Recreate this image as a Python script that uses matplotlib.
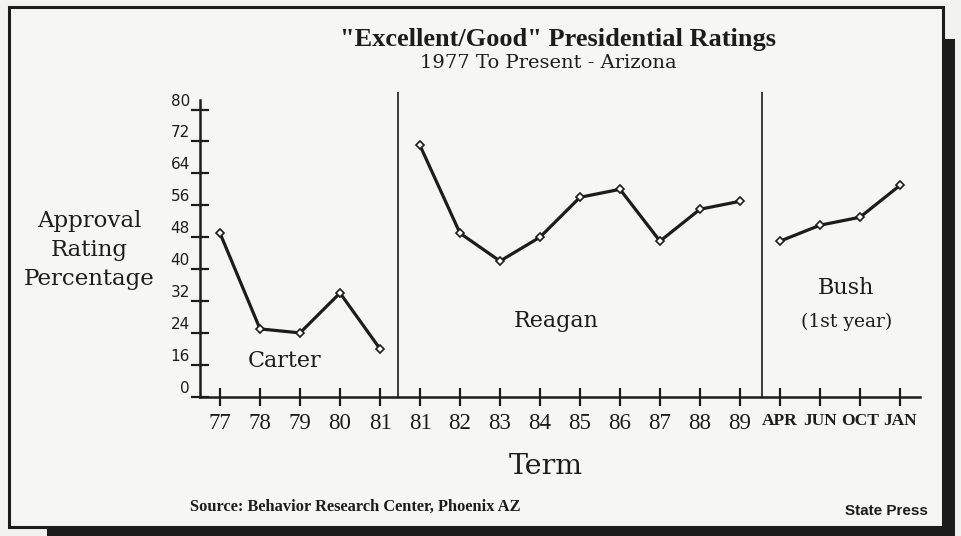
import matplotlib
matplotlib.use('Agg')
import matplotlib.pyplot as plt
from matplotlib.patches import Rectangle
import matplotlib.transforms as mtransforms

# ---------------- data ----------------
carter_terms = ['77', '78', '79', '80', '81']
carter_values = [49, 25, 24, 34, 20]
reagan_terms = ['81', '82', '83', '84', '85', '86', '87', '88', '89']
reagan_values = [71, 49, 42, 48, 58, 60, 47, 55, 57]
bush_terms = ['APR', 'JUN', 'OCT', 'JAN']
bush_values = [47, 51, 53, 61]
y_tick_values = [8, 16, 24, 32, 40, 48, 56, 64, 72, 80]
y_tick_labels = ['0', '16', '24', '32', '40', '48', '56', '64', '72', '80']
president_labels = ['Carter', 'Reagan', 'Bush']

# ---------------- figure ----------------
W, H = 961, 536
INK = '#1c1c1c'
PAPER = '#f6f6f4'
fig = plt.figure(figsize=(W / 100, H / 100), dpi=100)
fig.patch.set_facecolor('#f2f2f0')


def fx(x):
    return x / W


def fy(y):
    return 1 - y / H


# drop shadow + frame
fig.patches.append(Rectangle((fx(47), fy(540)), fx(955) - fx(47), fy(39) - fy(540),
                             transform=fig.transFigure, facecolor=INK,
                             edgecolor='none', zorder=-3))
fig.patches.append(Rectangle((fx(9), fy(527)), fx(943) - fx(9), fy(7) - fy(527),
                             transform=fig.transFigure, facecolor=PAPER,
                             edgecolor=INK, linewidth=2.2, zorder=-2))

ax = fig.add_axes([fx(200), fy(396.7), fx(920) - fx(200), fy(92) - fy(396.7)])
ax.set_zorder(2)
ax.set_facecolor('none')
ax.set_xlim(-0.5, 17.5)
ax.set_ylim(8, 84.4)

groups = [(carter_terms, carter_values), (reagan_terms, reagan_values),
          (bush_terms, bush_values)]
all_terms = []
start = 0
boundaries = []
for terms, vals in groups:
    xs = list(range(start, start + len(terms)))
    ax.plot(xs, vals, color=INK, lw=2.3, marker='D', ms=4.3,
            mfc='white', mec=INK, mew=1.2, zorder=3, clip_on=False)
    all_terms += terms
    start += len(terms)
    boundaries.append(start - 0.5)

# divider lines between terms
ax.axvline(boundaries[0] - 0.05, color=INK, lw=1.2, zorder=2)
ax.axvline(boundaries[1] + 0.05, color=INK, lw=1.2, zorder=2)

# spines
for s in ['top', 'right']:
    ax.spines[s].set_visible(False)
ax.spines['left'].set_bounds(8, 82.4)
for s in ['left', 'bottom']:
    ax.spines[s].set_linewidth(1.8)
    ax.spines[s].set_color(INK)

# y ticks
ax.set_yticks(y_tick_values, y_tick_labels)
ax.tick_params(axis='y', direction='inout', length=12.5, width=1.6, color=INK,
               pad=1, labelsize=11, labelcolor=INK)
offset = mtransforms.ScaledTranslation(0, 0.10, fig.dpi_scale_trans)
for lab in ax.get_yticklabels():
    lab.set_fontfamily('DejaVu Sans')
    lab.set_transform(lab.get_transform() + offset)

# x ticks
ax.set_xticks(range(len(all_terms)), all_terms)
ax.tick_params(axis='x', direction='inout', length=13, width=1.6, color=INK,
               pad=5, labelcolor=INK)
for lab in ax.get_xticklabels():
    t = lab.get_text()
    lab.set_fontfamily('Liberation Serif')
    if t.isdigit():
        lab.set_fontsize(16.5)
    else:
        lab.set_fontweight('bold')
        lab.set_fontsize(12.5)

# ---------------- texts ----------------
serif = 'DejaVu Serif'
fig.text(fx(557.7), fy(39.5), '"Excellent/Good" Presidential Ratings',
         family='Liberation Serif', weight='bold', fontsize=19,
         ha='center', va='center', color=INK)
fig.text(fx(548.7), fy(62.5), '1977 To Present - Arizona', family=serif,
         fontsize=14, ha='center', va='center', color=INK)

fig.text(fx(89), fy(250), 'Approval\nRating\nPercentage', family=serif,
         fontsize=16.5, ha='center', va='center', multialignment='center',
         linespacing=1.4, color=INK)

fig.text(fx(285), fy(361), president_labels[0], family=serif, fontsize=16,
         ha='center', va='center', color=INK)
fig.text(fx(556), fy(321), president_labels[1], family=serif, fontsize=16,
         ha='center', va='center', color=INK)
fig.text(fx(846), fy(287.5), president_labels[2], family=serif, fontsize=16,
         ha='center', va='center', color=INK)
fig.text(fx(847), fy(322), '(1st year)', family=serif, fontsize=13.5,
         ha='center', va='center', color=INK)

fig.text(fx(546), fy(466), 'Term', family=serif, fontsize=20.5,
         ha='center', va='center', color=INK)

fig.text(fx(190), fy(507), 'Source: Behavior Research Center, Phoenix AZ',
         family='Liberation Serif', weight='bold', fontsize=11.8,
         ha='left', va='center', color=INK)
fig.text(fx(928), fy(511), 'State Press', family='Liberation Sans',
         weight='bold', fontsize=11, ha='right', va='center', color=INK)

fig.savefig('out.png', dpi=100, facecolor=fig.get_facecolor())
